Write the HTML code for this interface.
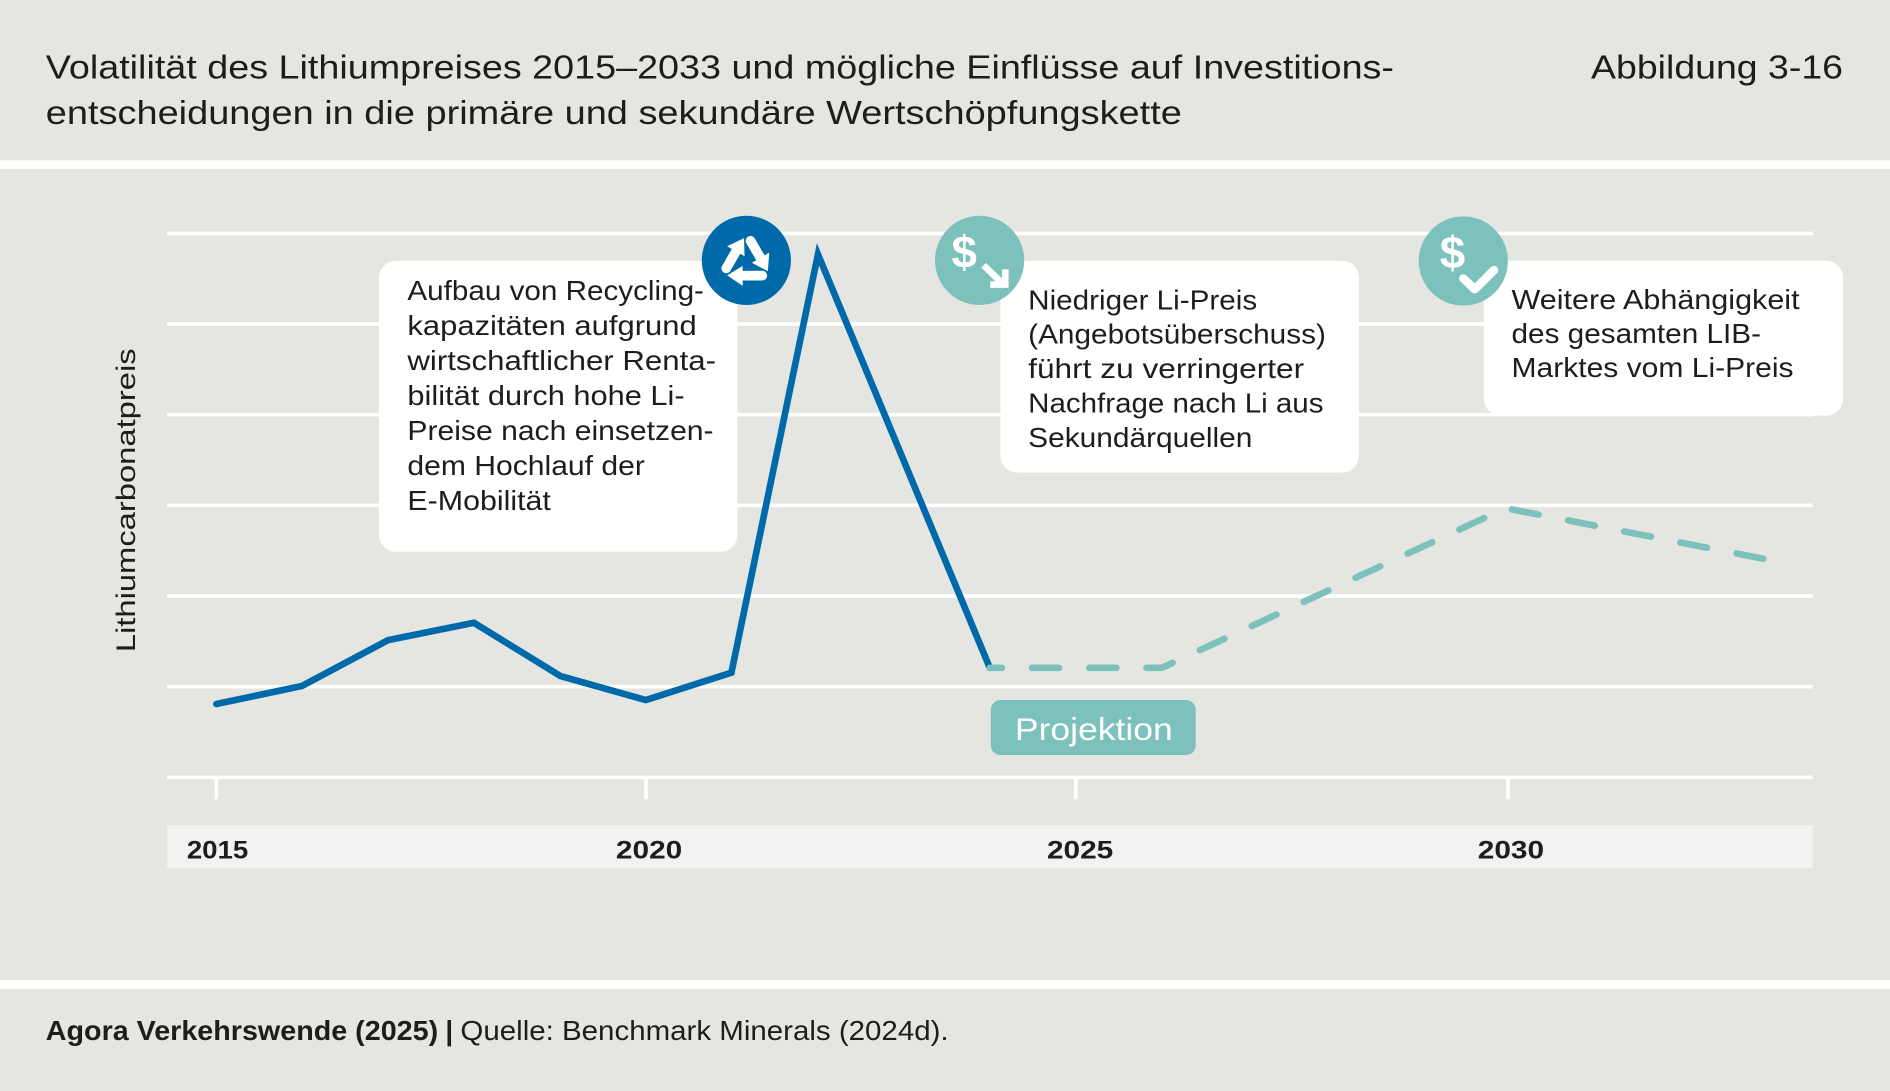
<!DOCTYPE html>
<html>
<head>
<meta charset="utf-8">
<style>
  html, body { margin: 0; padding: 0; background: #e5e5e1; }
  body { width: 1890px; height: 1091px; overflow: hidden; }
  svg { display: block; }
  .cond { font-family: "Liberation Sans Narrow", "Liberation Sans", sans-serif; }
  .reg { font-family: "Liberation Sans", "DejaVu Sans", sans-serif; }
</style>
</head>
<body>
<svg width="1890" height="1091" viewBox="0 0 1568 905" preserveAspectRatio="none" xmlns="http://www.w3.org/2000/svg">
  <!-- backgrounds -->
  <rect x="0" y="0" width="1568" height="905" fill="#e5e5e1"/>
  <rect x="0" y="133" width="1568" height="7" fill="#ffffff"/>
  <rect x="0" y="813" width="1568" height="7.5" fill="#ffffff"/>

  <!-- header -->
  <g class="cond" fill="#1d1d1b" font-size="28">
    <text x="38" y="65" textLength="1118.5" lengthAdjust="spacingAndGlyphs">Volatilität des Lithiumpreises 2015–2033 und mögliche Einflüsse auf Investitions-</text>
    <text x="38" y="103" textLength="942.5" lengthAdjust="spacingAndGlyphs">entscheidungen in die primäre und sekundäre Wertschöpfungskette</text>
    <text x="1320" y="65" textLength="209" lengthAdjust="spacingAndGlyphs">Abbildung 3-16</text>
  </g>

  <!-- grid lines -->
  <g stroke="#ffffff" stroke-width="3">
    <line x1="138.6" y1="193.6" x2="1504" y2="193.6"/>
    <line x1="138.6" y1="268.8" x2="1504" y2="268.8"/>
    <line x1="138.6" y1="344" x2="1504" y2="344"/>
    <line x1="138.6" y1="419.2" x2="1504" y2="419.2"/>
    <line x1="138.6" y1="494.4" x2="1504" y2="494.4"/>
    <line x1="138.6" y1="569.6" x2="1504" y2="569.6"/>
    <line x1="138.6" y1="644.8" x2="1504" y2="644.8"/>
    <line x1="179.5" y1="645" x2="179.5" y2="663"/>
    <line x1="536" y1="645" x2="536" y2="663"/>
    <line x1="892.5" y1="645" x2="892.5" y2="663"/>
    <line x1="1251" y1="645" x2="1251" y2="663"/>
  </g>

  <!-- x axis band -->
  <rect x="138.6" y="684.5" width="1365.4" height="35.5" fill="#f2f2f0"/>
  <g class="reg" fill="#1d1d1b" font-size="21" font-weight="bold">
    <text x="155" y="712" textLength="51" lengthAdjust="spacingAndGlyphs">2015</text>
    <text x="511" y="712" textLength="55" lengthAdjust="spacingAndGlyphs">2020</text>
    <text x="868.6" y="712" textLength="55" lengthAdjust="spacingAndGlyphs">2025</text>
    <text x="1226" y="712" textLength="55" lengthAdjust="spacingAndGlyphs">2030</text>
  </g>

  <!-- y axis label -->
  <g transform="translate(112 415) rotate(-90)">
    <text class="reg" x="0" y="0" fill="#1d1d1b" font-size="22" text-anchor="middle" textLength="252" lengthAdjust="spacingAndGlyphs">Lithiumcarbonatpreis</text>
  </g>

  <!-- series -->
  <polyline points="179.5,584 250.5,569 322,531 393.2,516.6 465,560.8 535.8,580.7 606.8,558 678.6,211 821.2,554"
            fill="none" stroke="#0069aa" stroke-width="5.5" stroke-linejoin="miter" stroke-linecap="round"/>
  <polyline points="821.2,554 963.8,554 1249,421.5 1463,463.5"
            fill="none" stroke="#7cc1bc" stroke-width="5.5" stroke-linejoin="round" stroke-linecap="round"
            stroke-dasharray="22.5 25" stroke-dashoffset="12.5"/>

  <!-- Projektion label -->
  <rect x="822" y="580.7" width="170" height="45.6" rx="8" fill="#7cc1bc"/>
  <text class="cond" x="842" y="614" fill="#ffffff" font-size="26" textLength="131" lengthAdjust="spacingAndGlyphs">Projektion</text>

  <!-- Box 1 -->
  <rect x="314.4" y="216.3" width="297.4" height="241.4" rx="14" fill="#ffffff"/>
  <g class="cond" fill="#1d1d1b" font-size="23">
    <text x="338" y="249" textLength="246" lengthAdjust="spacingAndGlyphs">Aufbau von Recycling-</text>
    <text x="338" y="278" textLength="240" lengthAdjust="spacingAndGlyphs">kapazitäten aufgrund</text>
    <text x="338" y="307" textLength="256" lengthAdjust="spacingAndGlyphs">wirtschaftlicher Renta-</text>
    <text x="338" y="336" textLength="230" lengthAdjust="spacingAndGlyphs">bilität durch hohe Li-</text>
    <text x="338" y="365" textLength="254" lengthAdjust="spacingAndGlyphs">Preise nach einsetzen-</text>
    <text x="338" y="394" textLength="197" lengthAdjust="spacingAndGlyphs">dem Hochlauf der</text>
    <text x="338" y="423" textLength="119" lengthAdjust="spacingAndGlyphs">E-Mobilität</text>
  </g>

  <!-- Box 2 -->
  <rect x="830" y="216.3" width="297.5" height="175.7" rx="14" fill="#ffffff"/>
  <g class="cond" fill="#1d1d1b" font-size="23">
    <text x="853" y="256.6" textLength="190" lengthAdjust="spacingAndGlyphs">Niedriger Li-Preis</text>
    <text x="853" y="285.1" textLength="247" lengthAdjust="spacingAndGlyphs">(Angebotsüberschuss)</text>
    <text x="853" y="313.6" textLength="229" lengthAdjust="spacingAndGlyphs">führt zu verringerter</text>
    <text x="853" y="342.1" textLength="245" lengthAdjust="spacingAndGlyphs">Nachfrage nach Li aus</text>
    <text x="853" y="370.6" textLength="186" lengthAdjust="spacingAndGlyphs">Sekundärquellen</text>
  </g>

  <!-- Box 3 -->
  <rect x="1231" y="216.3" width="298" height="128.5" rx="14" fill="#ffffff"/>
  <g class="cond" fill="#1d1d1b" font-size="23">
    <text x="1254" y="256.4" textLength="239" lengthAdjust="spacingAndGlyphs">Weitere Abhängigkeit</text>
    <text x="1254" y="284.6" textLength="207" lengthAdjust="spacingAndGlyphs">des gesamten LIB-</text>
    <text x="1254" y="312.8" textLength="234" lengthAdjust="spacingAndGlyphs">Marktes vom Li-Preis</text>
  </g>

  <!-- Icon: recycling -->
  <circle cx="619.2" cy="216" r="37" fill="#0069aa"/>
  <g transform="translate(619.2 217) scale(1.15)" fill="#ffffff" stroke="#ffffff">
    <g>
      <line x1="3" y1="-15" x2="10" y2="-3" stroke-width="7" stroke-linecap="round"/>
      <polygon points="16.5,-6.5 4,0.8 15.5,7" stroke="none"/>
    </g>
    <g transform="rotate(120)">
      <line x1="3" y1="-15" x2="10" y2="-3" stroke-width="7" stroke-linecap="round"/>
      <polygon points="16.5,-6.5 4,0.8 15.5,7" stroke="none"/>
    </g>
    <g transform="rotate(240)">
      <line x1="3" y1="-15" x2="10" y2="-3" stroke-width="7" stroke-linecap="round"/>
      <polygon points="16.5,-6.5 4,0.8 15.5,7" stroke="none"/>
    </g>
  </g>

  <!-- Icon: dollar down -->
  <circle cx="812.7" cy="216" r="37" fill="#7cc1bc"/>
  <text class="reg" x="800" y="222" fill="#ffffff" font-size="38" font-weight="bold" text-anchor="middle">$</text>
  <g stroke="#ffffff" stroke-width="5.5" fill="none" stroke-linecap="butt">
    <line x1="816" y1="220" x2="831" y2="234.5"/>
    <polyline points="821.5,236 834,236 834,223.5" stroke-linejoin="miter"/>
  </g>

  <!-- Icon: dollar check -->
  <circle cx="1214" cy="216.5" r="37" fill="#7cc1bc"/>
  <text class="reg" x="1205" y="222.5" fill="#ffffff" font-size="38" font-weight="bold" text-anchor="middle">$</text>
  <polyline points="1214,231 1223.5,240 1239.5,224" fill="none" stroke="#ffffff" stroke-width="7" stroke-linecap="round" stroke-linejoin="round"/>

  <!-- footer -->
  <g class="cond" fill="#1d1d1b" font-size="23">
    <text x="38" y="862.8" font-weight="bold" textLength="325.5" lengthAdjust="spacingAndGlyphs">Agora Verkehrswende (2025)</text>
    <text x="369.5" y="862.8" font-weight="bold">|</text>
    <text x="382" y="862.8" textLength="405" lengthAdjust="spacingAndGlyphs">Quelle: Benchmark Minerals (2024d).</text>
  </g>
</svg>
</body>
</html>
